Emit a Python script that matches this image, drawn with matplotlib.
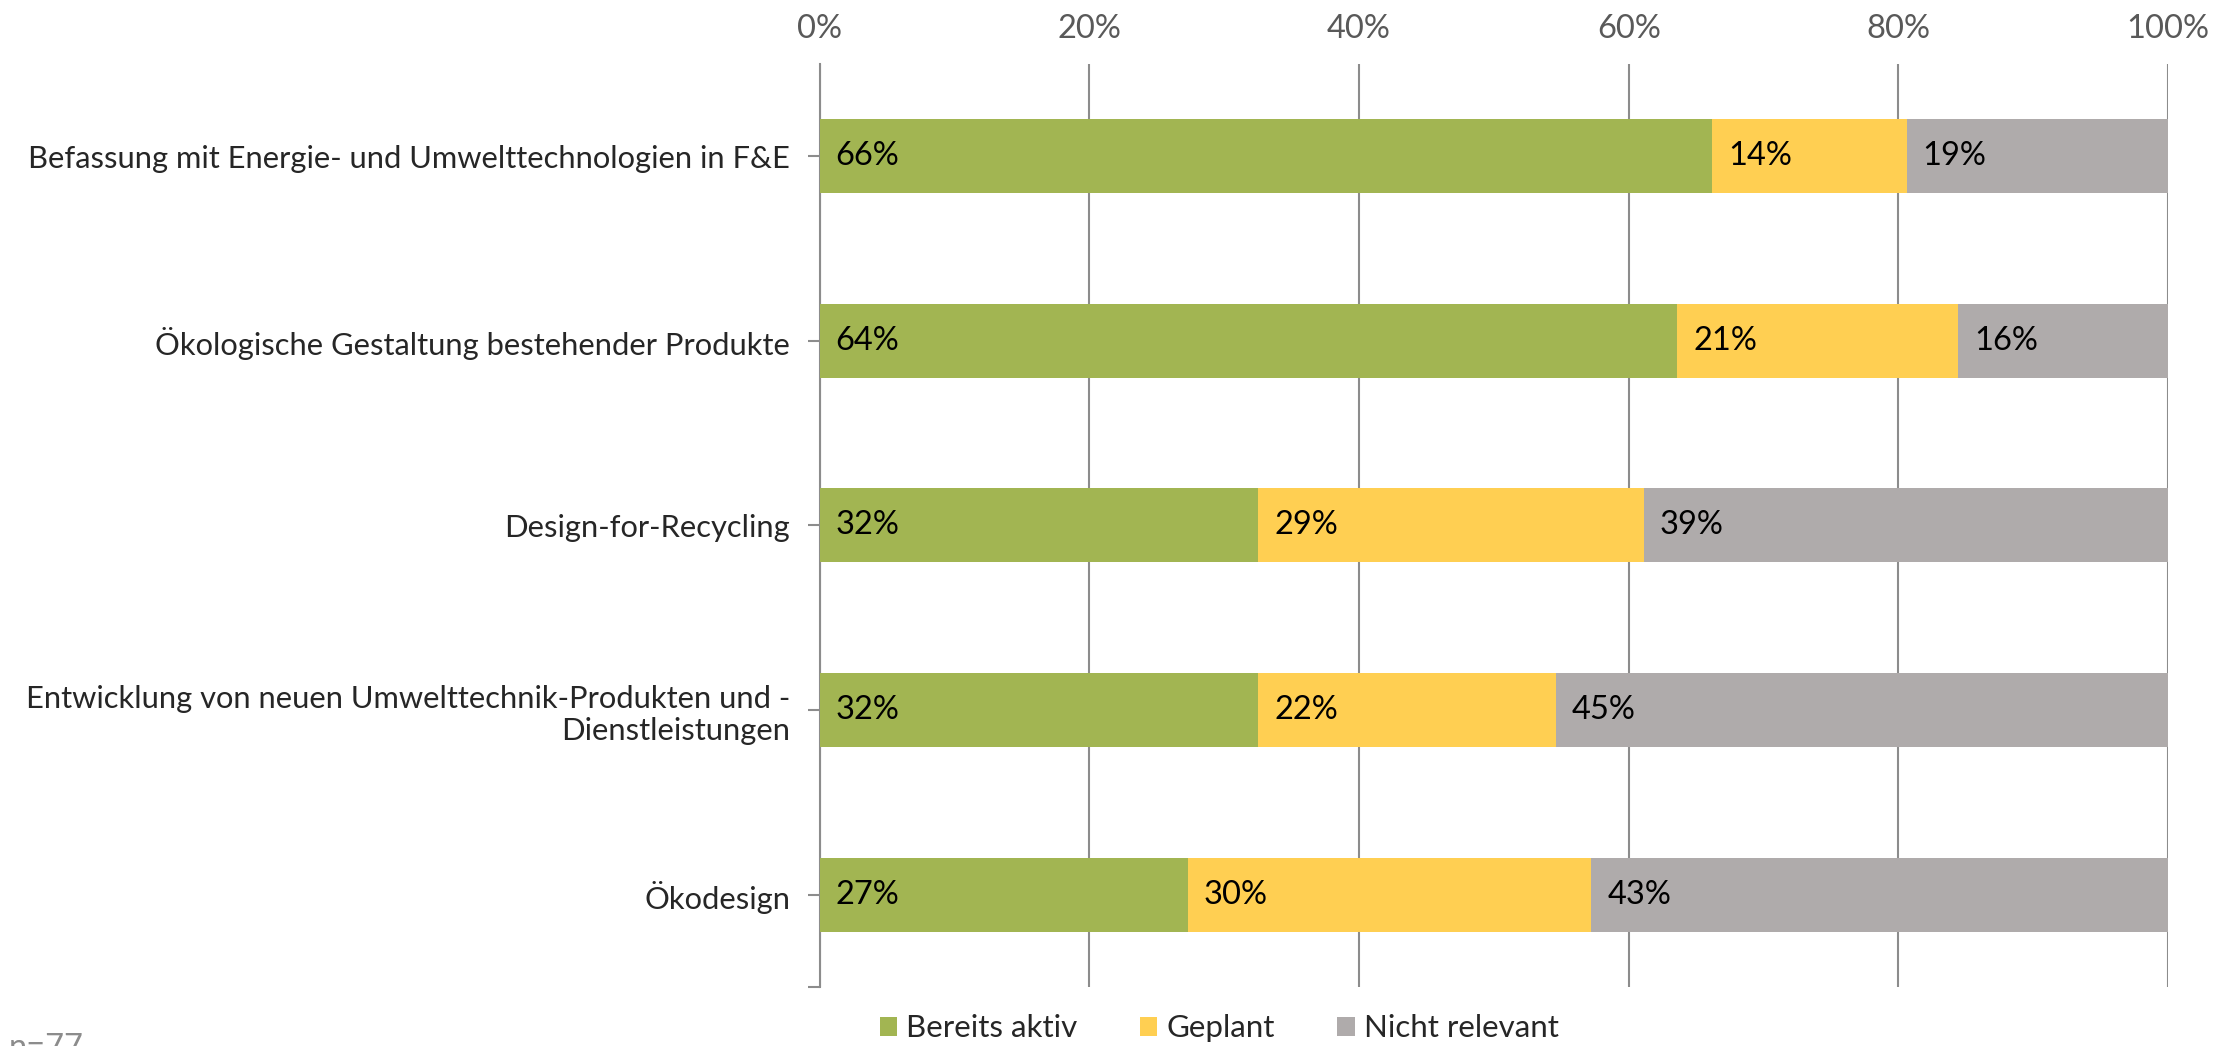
import matplotlib
matplotlib.use("Agg")
import matplotlib.pyplot as plt
import numpy as np
from matplotlib.ticker import PercentFormatter

plt.rcParams['font.family'] = ['Lato', 'DejaVu Sans']

# Daten (Anteile in %, n=77)
categories = [
    "Befassung mit Energie- und Umwelttechnologien in F&E",
    "Ökologische Gestaltung bestehender Produkte",
    "Design-for-Recycling",
    "Entwicklung von neuen Umwelttechnik-Produkten und -\nDienstleistungen",
    "Ökodesign",
]
bereits_aktiv = [66.2, 63.6, 32.5, 32.5, 27.3]
geplant = [14.4, 20.8, 28.6, 22.1, 29.9]
nicht_relevant = [19.4, 15.6, 38.9, 45.4, 42.8]
series_names = ["Bereits aktiv", "Geplant", "Nicht relevant"]
colors = ["#A2B552", "#FFCF52", "#AFABAB"]
n_text = "n=77"

fig = plt.figure(figsize=(22.33, 10.46), dpi=100)
ax = fig.add_axes([0.367, 0.0564, 0.604, 0.8826])

y = np.arange(len(categories))
left = np.zeros(len(categories))
for name, vals, col in zip(series_names, [bereits_aktiv, geplant, nicht_relevant], colors):
    vals = np.array(vals)
    ax.barh(y, vals, left=left, height=0.4, color=col, label=name, zorder=3)
    for yi, l, v in zip(y, left, vals):
        ax.text(l + 1.2, yi, f"{v:.0f}%", va='center', ha='left',
                fontsize=23.5, color='black', zorder=4)
    left = left + vals

ax.set_xlim(0, 100)
ax.set_ylim(4.5, -0.5)
ax.xaxis.set_major_formatter(PercentFormatter(decimals=0))
ax.set_xticks([0, 20, 40, 60, 80, 100])
ax.xaxis.tick_top()
ax.tick_params(axis='x', length=0, pad=14, labelsize=23.5, labelcolor='#595959')
ax.grid(axis='x', color='#8C8C8C', linewidth=1.5, zorder=0)

ax.set_yticks(y)
ax.set_yticklabels(categories, fontsize=22.2, color='#262626')
ax.set_yticks([4.5], minor=True)
ax.tick_params(axis='y', which='both', length=9, width=1.5, color='#8C8C8C', pad=12)

for s in ['top', 'right', 'bottom']:
    ax.spines[s].set_visible(False)
ax.spines['left'].set_color('#8C8C8C')
ax.spines['left'].set_linewidth(1.5)

leg = fig.legend(loc='center', bbox_to_anchor=(0.546, 0.017), ncol=3, frameon=False,
                 fontsize=22.5, handlelength=0.55, handleheight=0.55, handletextpad=0.3,
                 columnspacing=2.0)
for t in leg.get_texts():
    t.set_color('#262626')

fig.text(0.004, 0.012, n_text, ha='left', va='top', fontsize=23.5, color='#8C8C8C')

fig.savefig("out.png", dpi=100)
